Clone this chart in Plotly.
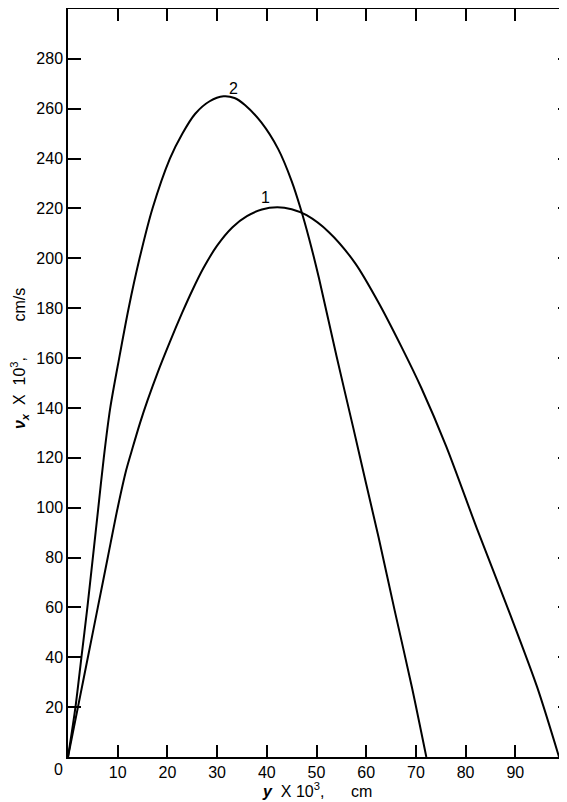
import plotly.graph_objects as go

# Curve 1
x1 = [0, 2.0, 4.0, 6.0, 8.0, 10.0, 11.7, 13.0, 14.5, 16.0, 18.0, 20.5, 23.0, 25.0, 27.2, 30.0,
      33.1, 36.0, 39.0, 42.1, 45.0, 48.0, 52.5, 57.8, 62.5, 67.1, 71.1, 76.1, 82.3, 89.0, 94.4, 98.8]
y1 = [0, 20, 40, 60, 80, 100, 115, 124, 134, 143, 154, 166.5, 178.3, 187.1, 195.9, 205.1,
      212.5, 216.9, 219.6, 220.5, 219.7, 217.3, 210.5, 198, 182.2, 164.5, 148, 124.6, 91.5, 57, 28, 0]

# Curve 2
x2 = [0, 1.5, 2.7, 3.9, 5.0, 6.1, 7.2, 8.5, 10.3, 12.2, 14.4, 17.0, 20.5, 23.0, 25.6, 28.5, 31.3,
      33.5, 35.6, 38.9, 42.3, 45.0, 46.8, 48.5, 50.5, 54.0, 57.4, 60.0, 62.5, 65.7, 69.2, 72.1]
y2 = [0, 20, 40, 60, 80, 100, 120, 140, 160, 180, 200, 220, 240, 250, 258, 263, 265,
      264.3, 261.5, 254.5, 243.8, 231, 220, 208, 192, 161, 132, 109.5, 88, 59, 28, 0]

x_ticks = [10, 20, 30, 40, 50, 60, 70, 80, 90]
y_ticks = [20, 40, 60, 80, 100, 120, 140, 160, 180, 200, 220, 240, 260, 280]

curve_labels = ["1", "2"]
label_x = [39.8, 33.3]
label_y = [224.5, 268]

FONT = "Liberation Sans, Arial, sans-serif"
NB = "\u00a0"

fig = go.Figure()
for xs, ys in ((x1, y1), (x2, y2)):
    fig.add_trace(go.Scatter(x=xs, y=ys, mode="lines",
                             line=dict(color="black", width=2, shape="spline", smoothing=0.8),
                             showlegend=False, hoverinfo="skip"))
# dummy trace so the right-side tick marks are drawn
fig.add_trace(go.Scatter(x=[None], y=[None], yaxis="y2", showlegend=False, hoverinfo="skip"))

for t, lx, ly in zip(curve_labels, label_x, label_y):
    fig.add_annotation(x=lx, y=ly, text=t, showarrow=False,
                       font=dict(family=FONT, size=16, color="black"))

# origin label
fig.add_annotation(x=0, y=0, xref="x", yref="y", text="0", showarrow=False,
                   xanchor="right", yanchor="top", xshift=-3, yshift=-2,
                   font=dict(family=FONT, size=16, color="black"))

# y axis title
fig.add_annotation(x=-0.097, y=0.533, xref="paper", yref="paper",
                   xanchor="center", yanchor="middle",
                   text=("<b><i>ν</i></b><sub><b><i>x</i></b></sub>" + NB * 2 + "X" + NB * 2 +
                         "10<sup>3</sup>," + NB * 8 + "cm/s"),
                   textangle=-90, showarrow=False,
                   font=dict(family=FONT, size=16, color="black"))

# x axis title
fig.add_annotation(x=0.5, y=-0.044, xref="paper", yref="paper", yanchor="middle",
                   text="<b><i>y</i></b>" + NB * 2 + "X" + NB + "10<sup>3</sup>," + NB * 6 + "cm",
                   showarrow=False, font=dict(family=FONT, size=16, color="black"))

fig.update_layout(
    width=559, height=794,
    margin=dict(l=60, r=2, t=1, b=45, autoexpand=False),
    paper_bgcolor="white", plot_bgcolor="white",
    font=dict(family=FONT, size=16, color="black"),
    xaxis=dict(range=[0, 100], tickvals=x_ticks, ticktext=[str(v) for v in x_ticks],
               ticks="inside", ticklen=12, tickwidth=1.5, tickcolor="black",
               showline=True, linecolor="black", linewidth=1.5, mirror="ticks",
               showgrid=False, zeroline=False, automargin=False),
    yaxis=dict(range=[0, 300], tickvals=y_ticks, ticktext=[str(v) for v in y_ticks],
               ticks="inside", ticklen=13, tickwidth=1.5, tickcolor="black",
               showline=True, linecolor="black", linewidth=1.5,
               showgrid=False, zeroline=False, automargin=False),
    yaxis2=dict(range=[0, 300], overlaying="y", side="right", tickvals=y_ticks,
                ticks="inside", ticklen=7, tickwidth=1.5, tickcolor="black",
                showticklabels=False, showline=False, showgrid=False, zeroline=False,
                automargin=False),
)

fig.write_html("out.html")
